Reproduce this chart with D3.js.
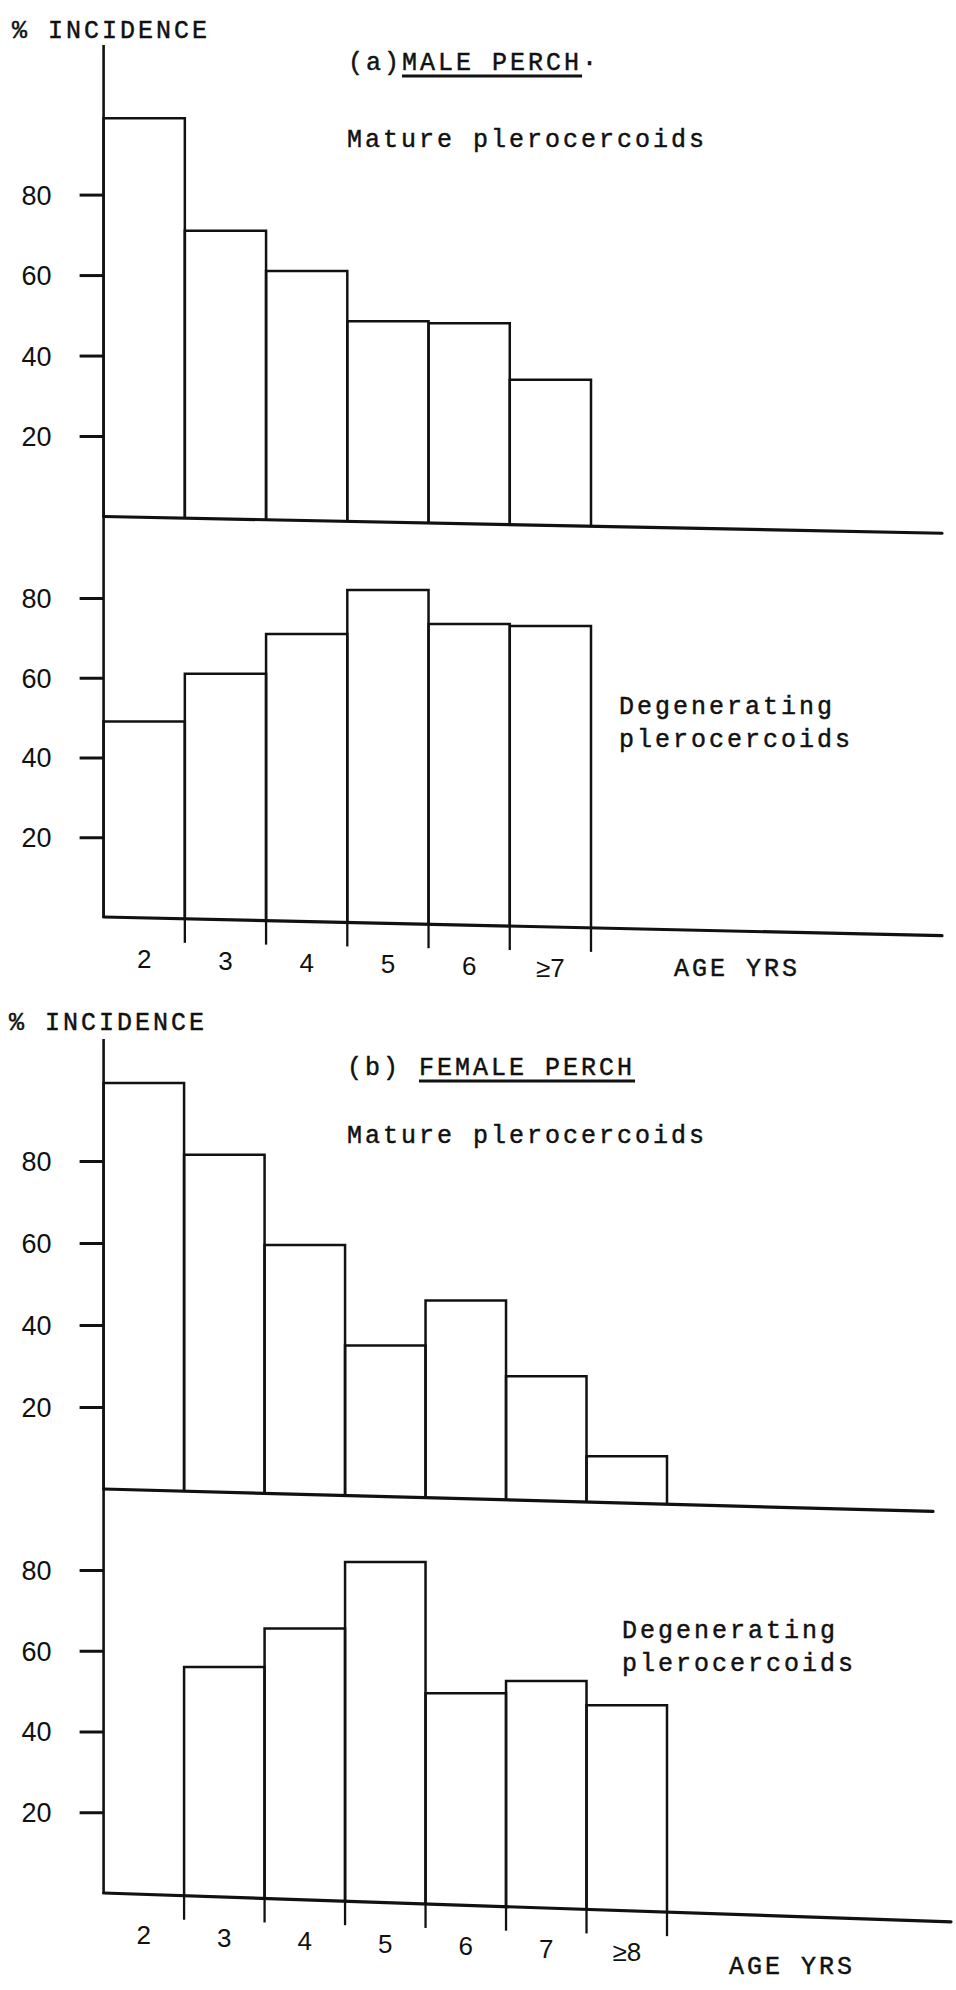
<!DOCTYPE html>
<html>
<head>
<meta charset="utf-8">
<script src="https://cdn.jsdelivr.net/npm/d3@7"></script>
<style>
  html, body { margin: 0; padding: 0; background: #fff; }
  svg { display: block; }
  .type { font-family: "Liberation Mono", "DejaVu Sans Mono", monospace; font-size: 25px; letter-spacing: 3px; fill: #111; stroke: #111; stroke-width: 0.45px; }
  .num { font-family: "Liberation Sans", "DejaVu Sans", sans-serif; font-size: 27px; fill: #111; }
  .axis .domain { display: none; }
  .axis line { stroke: #111; stroke-width: 3; }
</style>
</head>
<body>
<svg id="chart" width="956" height="1990"></svg>
<script>
// Age classes (years)
const maleAges = ["2", "3", "4", "5", "6", "\u22657"];
const femaleAges = ["2", "3", "4", "5", "6", "7", "\u22658"];

// % incidence of plerocercoids by age class
const maleMature = [99, 71, 61, 48.5, 48, 34];
const maleDegenerating = [49, 61, 71, 82, 73.5, 73];
const femaleMature = [99, 81.5, 59.5, 35, 46, 27.5, 8];
const femaleDegenerating = [null, 56, 65.5, 82, 49.5, 52.5, 46.5];

// Axis ticks and text
const yTickValues = [20, 40, 60, 80];
const yAxisTitle = "% INCIDENCE";
const xAxisTitle = "AGE YRS";
const matureLabel = ["Mature plerocercoids"];
const degeneratingLabel = ["Degenerating", "plerocercoids"];

const svg = d3.select("#chart");
const ink = "#111";
const xAxisPos = 103.6;

// Layout of the two figure parts, each with an upper and a lower histogram
const panels = [
  {
    ages: maleAges, prefix: "(a)", name: "MALE PERCH", suffix: "\u00b7",
    titleX: 348, titleY: 70, yTitleX: 12, yTitleY: 38,
    axisTop: 45, xRange: [xAxisPos, 591],
    ageTitleX: 674, ageTitleDy: 45,
    plots: [
      { values: maleMature, zero: 516.5, top80: 194.6, slope: 0.020, baseEnd: 942,
        label: matureLabel, labelX: 347, labelY: 147 },
      { values: maleDegenerating, zero: 917, top80: 598, slope: 0.0223, baseEnd: 942,
        label: degeneratingLabel, labelX: 619, labelY: 714 }
    ]
  },
  {
    ages: femaleAges, prefix: "(b) ", name: "FEMALE PERCH", suffix: "",
    titleX: 347, titleY: 1075, yTitleX: 9, yTitleY: 1030,
    axisTop: 1039, xRange: [xAxisPos, 667],
    ageTitleX: 729, ageTitleDy: 58,
    plots: [
      { values: femaleMature, zero: 1489, top80: 1161, slope: 0.027, baseEnd: 933,
        label: matureLabel, labelX: 347, labelY: 1143 },
      { values: femaleDegenerating, zero: 1893, top80: 1570, slope: 0.034, baseEnd: 951,
        label: degeneratingLabel, labelX: 622, labelY: 1638 }
    ]
  }
];

panels.forEach(p => {
  const g = svg.append("g");
  const x = d3.scaleBand().domain(p.ages).range(p.xRange).padding(0);

  // "% INCIDENCE"
  g.append("text").attr("class", "type")
    .attr("x", p.yTitleX).attr("y", p.yTitleY).text(yAxisTitle);

  // Part title with underlined name
  const title = g.append("text").attr("class", "type")
    .attr("x", p.titleX).attr("y", p.titleY);
  title.append("tspan").text(p.prefix);
  title.append("tspan").text(p.name);
  title.append("tspan").text(p.suffix);
  const tNode = title.node();
  const start = tNode.getStartPositionOfChar(p.prefix.length).x;
  const end = tNode.getEndPositionOfChar(p.prefix.length + p.name.length - 1).x;
  g.append("line")
    .attr("x1", start).attr("x2", end)
    .attr("y1", p.titleY + 6).attr("y2", p.titleY + 6)
    .attr("stroke", ink).attr("stroke-width", 2.8);

  const lower = p.plots[1];

  // Vertical axis running through both histograms
  g.append("line")
    .attr("x1", xAxisPos).attr("x2", xAxisPos)
    .attr("y1", p.axisTop).attr("y2", lower.zero)
    .attr("stroke", ink).attr("stroke-width", 2.6);

  p.plots.forEach((pl, k) => {
    const y = d3.scaleLinear().domain([0, 80]).range([pl.zero, pl.top80]);
    const base = px => pl.zero + pl.slope * (px - xAxisPos);

    // Left ticks and numbers
    const ax = g.append("g").attr("class", "axis")
      .attr("transform", `translate(${xAxisPos},0)`)
      .call(d3.axisLeft(y).tickValues(yTickValues).tickSize(24).tickPadding(28).tickFormat(d3.format("d")));
    ax.selectAll("text").attr("class", "num").attr("fill", ink)
      .attr("dy", "0.35em").style("font-size", null).style("font-family", null);

    // Baseline of the histogram (hand-ruled, slightly sloping)
    g.append("line")
      .attr("x1", xAxisPos).attr("y1", base(xAxisPos))
      .attr("x2", pl.baseEnd).attr("y2", base(pl.baseEnd))
      .attr("stroke", ink).attr("stroke-width", 3.2).attr("stroke-linecap", "round");

    // Histogram bars (open outlines standing on the baseline)
    const bars = p.ages.map((a, i) => ({ age: a, v: pl.values[i] })).filter(d => d.v != null);
    g.selectAll(null).data(bars).enter().append("path")
      .attr("fill", "none").attr("stroke", ink).attr("stroke-width", 2.5)
      .attr("stroke-linejoin", "miter")
      .attr("d", d => {
        const x0 = x(d.age), x1 = x(d.age) + x.bandwidth(), yt = y(d.v);
        return `M${x0},${base(x0)}L${x0},${yt}L${x1},${yt}L${x1},${base(x1)}`;
      });

    // Series label
    const lbl = g.append("text").attr("class", "type")
      .attr("x", pl.labelX).attr("y", pl.labelY);
    pl.label.forEach((t, j) => {
      lbl.append("tspan").attr("x", pl.labelX).attr("dy", j === 0 ? 0 : 33).text(t);
    });

    if (k === 1) {
      // Separators between the age labels below the lower baseline
      const edges = p.ages.slice(1).map(a => x(a)).concat([x(p.ages[p.ages.length - 1]) + x.bandwidth()]);
      g.selectAll(null).data(edges).enter().append("line")
        .attr("x1", d => d).attr("x2", d => d)
        .attr("y1", d => base(d)).attr("y2", d => base(d) + 24)
        .attr("stroke", ink).attr("stroke-width", 2.3);

      // Age labels
      g.selectAll(null).data(p.ages).enter().append("text")
        .attr("class", "num").style("font-size", "26px")
        .attr("text-anchor", "middle")
        .attr("x", d => x(d) + x.bandwidth() / 2)
        .attr("y", d => base(x(d) + x.bandwidth() / 2) + 41)
        .attr("dy", "0.35em")
        .text(d => d);

      // "AGE YRS"
      g.append("text").attr("class", "type")
        .attr("x", p.ageTitleX).attr("y", base(p.ageTitleX + 60) + p.ageTitleDy)
        .text(xAxisTitle);
    }
  });
});
</script>
</body>
</html>
